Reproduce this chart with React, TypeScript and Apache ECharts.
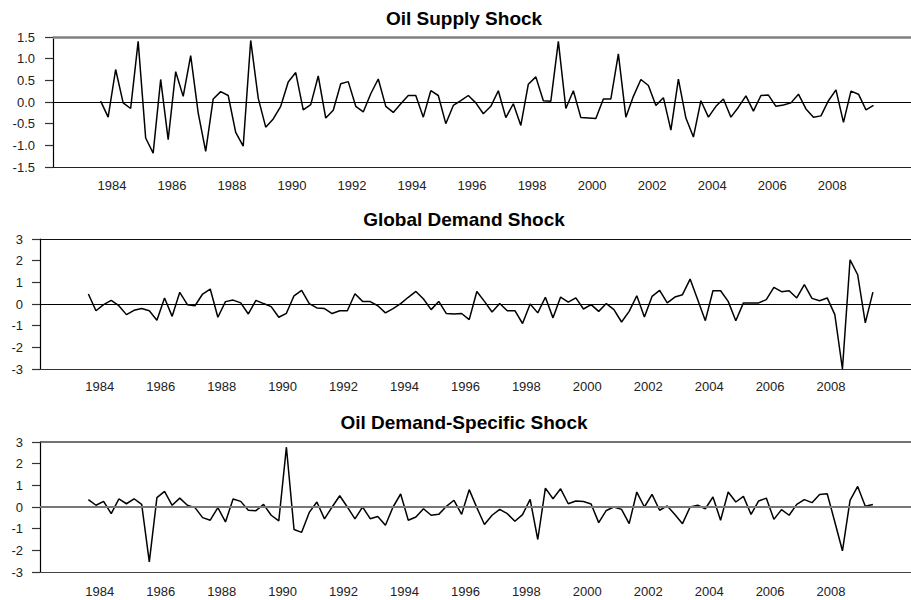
import React, { useEffect, useRef } from "react";
import * as echarts from "echarts";

// Quarterly structural shocks, 1983Q3 – 2009Q2
const titles = ["Oil Supply Shock", "Global Demand Shock", "Oil Demand-Specific Shock"];
const yearLabels = [1984, 1986, 1988, 1990, 1992, 1994, 1996, 1998, 2000, 2002, 2004, 2006, 2008];

const oilSupply = [
  0.02, -0.35, 0.75, -0.02, -0.15, 1.4, -0.83, -1.18, 0.52, -0.87,
  0.7, 0.13, 1.07, -0.25, -1.14, 0.07, 0.24, 0.15, -0.7, -1.02,
  1.42, 0.09, -0.58, -0.39, -0.1, 0.46, 0.68, -0.18, -0.06, 0.6,
  -0.37, -0.19, 0.42, 0.47, -0.1, -0.23, 0.19, 0.53, -0.1, -0.24,
  -0.04, 0.15, 0.15, -0.35, 0.26, 0.15, -0.5, -0.08, 0.03, 0.15,
  -0.02, -0.27, -0.1, 0.26, -0.36, -0.04, -0.54, 0.41, 0.58, 0.03,
  0.02, 1.4, -0.15, 0.26, -0.36, -0.37, -0.38, 0.07, 0.07, 1.11,
  -0.35, 0.13, 0.52, 0.38, -0.08, 0.1, -0.65, 0.53, -0.37, -0.81,
  0.03, -0.35, -0.1, 0.07, -0.35, -0.12, 0.14, -0.21, 0.15, 0.16,
  -0.1, -0.07, -0.02, 0.18, -0.16, -0.35, -0.32, 0.03, 0.28, -0.47,
  0.25, 0.18, -0.18, -0.08,
];

const globalDemand = [
  0.46, -0.31, -0.03, 0.17, -0.08, -0.49, -0.29, -0.21, -0.31, -0.75,
  0.28, -0.57, 0.54, -0.03, -0.08, 0.46, 0.69, -0.61, 0.11, 0.18,
  0.05, -0.46, 0.17, 0.02, -0.12, -0.61, -0.43, 0.38, 0.63, 0.02,
  -0.18, -0.21, -0.44, -0.31, -0.31, 0.47, 0.12, 0.11, -0.08, -0.41,
  -0.21, 0.02, 0.31, 0.58, 0.23, -0.26, 0.12, -0.44, -0.46, -0.44,
  -0.72, 0.58, 0.12, -0.37, 0.02, -0.31, -0.31, -0.9, 0.0, -0.41,
  0.31, -0.64, 0.32, 0.09, 0.28, -0.23, -0.03, -0.34, 0.02, -0.26,
  -0.83, -0.34, 0.38, -0.6, 0.35, 0.63, 0.05, 0.32, 0.43, 1.15,
  0.2, -0.77, 0.61, 0.61, 0.12, -0.77, 0.05, 0.05, 0.05, 0.2,
  0.77, 0.57, 0.61, 0.28, 0.89, 0.26, 0.15, 0.28, -0.49, -3.0,
  2.04, 1.35, -0.87, 0.55,
];

const oilDemand = [
  0.34, 0.08, 0.26, -0.31, 0.37, 0.15, 0.38, 0.12, -2.53, 0.43,
  0.72, 0.08, 0.41, 0.08, -0.03, -0.49, -0.61, -0.03, -0.69, 0.37,
  0.26, -0.15, -0.17, 0.12, -0.38, -0.64, 2.76, -1.04, -1.17, -0.25,
  0.23, -0.55, 0.0, 0.52, 0.0, -0.55, 0.0, -0.54, -0.44, -0.84,
  0.0, 0.6, -0.61, -0.46, -0.08, -0.38, -0.34, 0.03, 0.31, -0.34,
  0.8, -0.03, -0.81, -0.38, -0.11, -0.31, -0.66, -0.35, 0.35, -1.5,
  0.87, 0.38, 0.84, 0.15, 0.28, 0.25, 0.14, -0.72, -0.16, 0.0,
  -0.11, -0.77, 0.69, 0.0, 0.58, -0.15, 0.05, -0.35, -0.77, 0.0,
  0.08, -0.08, 0.46, -0.61, 0.69, 0.23, 0.49, -0.34, 0.28, 0.41,
  -0.57, -0.12, -0.38, 0.12, 0.34, 0.2, 0.58, 0.61, -0.69, -2.02,
  0.31, 0.95, 0.03, 0.12,
];

const FONT = "'Liberation Sans', Arial, Helvetica, sans-serif";
const START_YEAR = 1983; // first observation is 1983Q3

// position of a year boundary on the quarter-index axis
const yearPos = (y: number) => (y - START_YEAR) * 4 - 2 - 0.5;
const posYear = (v: number) => Math.round((v + 2.5) / 4) + START_YEAR;

export default function App() {
  const ref = useRef<HTMLDivElement>(null);
  useEffect(() => {
    if (!ref.current) return;
    const chart = echarts.init(ref.current, null, { renderer: "svg" });
    const seriesData = [oilSupply, globalDemand, oilDemand];
    const panels = [
      { left: 53, top: 37, lim: 1.5, step: 0.5, dec: 1, margin: 18, xMargin: 12, titleY: 18,
        topColor: "#808080", topWidth: 2.5, zeroColor: "#000", zeroWidth: 1.2, botColor: "#222" },
      { left: 40, top: 239, lim: 3, step: 1, dec: 0, margin: 17, xMargin: 11, titleY: 219,
        topColor: "#111", topWidth: 1.2, zeroColor: "#000", zeroWidth: 1.2, botColor: "#333" },
      { left: 40, top: 442, lim: 3, step: 1, dec: 0, margin: 17, xMargin: 13, titleY: 422,
        topColor: "#444", topWidth: 1.5, zeroColor: "#777", zeroWidth: 2, botColor: "#444" },
    ];
    const H = 130;
    const option: any = {
      animation: false,
      backgroundColor: "#fff",
      grid: panels.map((p) => ({ left: p.left, top: p.top, right: 0, height: H, containLabel: false })),
      xAxis: panels.map((p, i) => ({
        type: "value",
        gridIndex: i,
        min: -6.35,
        max: 108,
        axisLine: { show: true, onZero: false, lineStyle: { color: p.botColor, width: 1.2 } },
        axisTick: { show: false },
        splitLine: { show: false },
        axisLabel: {
          customValues: yearLabels.map(yearPos),
          formatter: (v: number) => String(posYear(v)),
          fontFamily: FONT,
          fontSize: 13,
          color: "#222",
          margin: p.xMargin,
        },
      })),
      yAxis: panels.map((p, i) => ({
        type: "value",
        gridIndex: i,
        min: -p.lim,
        max: p.lim,
        interval: p.step,
        axisLine: { show: true, onZero: false, lineStyle: { color: "#000", width: 1.2 } },
        axisTick: { show: true, length: 8, lineStyle: { color: "#333", width: 1.2 } },
        splitLine: { show: false },
        axisLabel: {
          formatter: (v: number) => v.toFixed(p.dec),
          fontFamily: FONT,
          fontSize: 13,
          color: "#222",
          margin: p.margin,
        },
      })),
      series: panels.map((p, i) => ({
        type: "line",
        xAxisIndex: i,
        yAxisIndex: i,
        data: seriesData[i].map((v, k) => [k, v]),
        symbol: "none",
        lineStyle: { color: "#000", width: 1.5 },
        z: 3,
        markLine: {
          silent: true,
          symbol: "none",
          label: { show: false },
          animation: false,
          data: [
            { yAxis: 0, lineStyle: { color: p.zeroColor, width: p.zeroWidth, type: "solid" } },
            { yAxis: p.lim, lineStyle: { color: p.topColor, width: p.topWidth, type: "solid" } },
          ],
        },
      })),
      graphic: panels.map((p, i) => ({
        type: "text",
        x: 464,
        y: p.titleY,
        style: {
          text: titles[i],
          fontFamily: FONT,
          fontSize: 19,
          fontWeight: "bold",
          fill: "#000",
          textAlign: "center",
          textVerticalAlign: "middle",
        },
      })),
    };
    chart.setOption(option);
    return () => chart.dispose();
  }, []);
  return (
    <div
      ref={ref}
      style={{ position: "fixed", left: 0, top: 0, width: 911, height: 600, background: "#fff" }}
    />
  );
}
